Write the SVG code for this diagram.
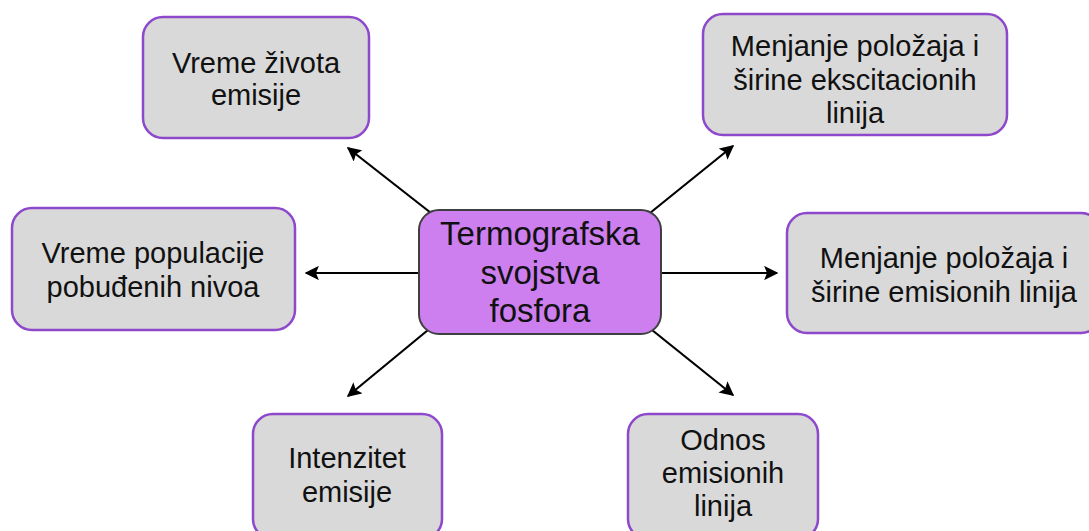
<svg xmlns="http://www.w3.org/2000/svg" width="1089" height="531" viewBox="0 0 1089 531">
<defs>
<style>
.box{fill:#D9D9D9;stroke:#8E48CC;stroke-width:2.5}
.center{fill:#CD7FF0;stroke:#3F3F3F;stroke-width:2}
.t{font-family:"Liberation Sans",Arial,sans-serif;font-size:29px;fill:#111;text-anchor:middle}
.tc{font-family:"Liberation Sans",Arial,sans-serif;font-size:33px;fill:#111;text-anchor:middle}
.c{stroke:#000;stroke-width:2.2;fill:none;marker-end:url(#ah)}
</style>
<marker id="ah" viewBox="0 0 10 10" refX="9" refY="5" markerWidth="6.5" markerHeight="6.5" markerUnits="strokeWidth" orient="auto">
<path d="M0,0 L10,5 L0,10 L2,5 z" fill="#000"/>
</marker>
</defs>
<rect width="1089" height="531" fill="#fff"/>
<g id="connectors">
<line class="c" x1="431" y1="213" x2="348" y2="148"/>
<line class="c" x1="650" y1="213" x2="733" y2="146"/>
<line class="c" x1="419" y1="273" x2="306" y2="273"/>
<line class="c" x1="661" y1="273" x2="777" y2="273"/>
<line class="c" x1="428" y1="330" x2="348" y2="396"/>
<line class="c" x1="652" y1="330" x2="733" y2="395"/>
</g>
<g id="center">
<rect class="center" x="419" y="210" width="242" height="124" rx="20"/>
<text class="tc" x="540" y="245">Termografska</text>
<text class="tc" x="540" y="284">svojstva</text>
<text class="tc" x="540" y="322">fosfora</text>
</g>
<g id="n1">
<rect class="box" x="143" y="17" width="226" height="121" rx="20"/>
<text class="t" x="256" y="73">Vreme života</text>
<text class="t" x="256" y="105">emisije</text>
</g>
<g id="n2">
<rect class="box" x="703" y="14" width="304" height="121" rx="20"/>
<text class="t" x="855" y="56">Menjanje položaja i</text>
<text class="t" x="855" y="90">širine ekscitacionih</text>
<text class="t" x="855" y="123">linija</text>
</g>
<g id="n3">
<rect class="box" x="12" y="208" width="283" height="122" rx="20"/>
<text class="t" x="153" y="263">Vreme populacije</text>
<text class="t" x="153" y="297">pobuđenih nivoa</text>
</g>
<g id="n4">
<rect class="box" x="787" y="213" width="314" height="120" rx="20"/>
<text class="t" x="944" y="268">Menjanje položaja i</text>
<text class="t" x="944" y="302">širine emisionih linija</text>
</g>
<g id="n5">
<rect class="box" x="253" y="414" width="189" height="125" rx="20"/>
<text class="t" x="347" y="468">Intenzitet</text>
<text class="t" x="347" y="502">emisije</text>
</g>
<g id="n6">
<rect class="box" x="628" y="414" width="190" height="125" rx="20"/>
<text class="t" x="723" y="450">Odnos</text>
<text class="t" x="723" y="483">emisionih</text>
<text class="t" x="723" y="516">linija</text>
</g>
</svg>
